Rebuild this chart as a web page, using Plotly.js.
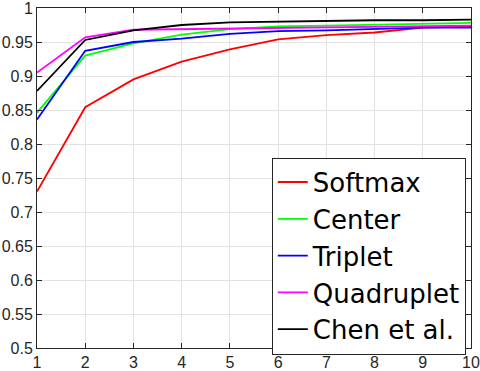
<!DOCTYPE html>
<html>
<head>
<meta charset="utf-8">
<script src="https://cdn.plot.ly/plotly-3.0.1.min.js"></script>
<style>html,body{margin:0;padding:0;background:#fff;}#chart{width:480px;height:371px;}</style>
</head>
<body>
<div id="chart"></div>
<script>
const xs = [1, 2, 3, 4, 5, 6, 7, 8, 9, 10];
const softmax = [0.730, 0.854, 0.895, 0.921, 0.939, 0.954, 0.960, 0.964, 0.971, 0.973];
const center = [0.846, 0.930, 0.948, 0.961, 0.969, 0.973, 0.974, 0.975, 0.977, 0.978];
const triplet = [0.836, 0.937, 0.950, 0.955, 0.962, 0.966, 0.967, 0.969, 0.971, 0.971];
const quadruplet = [0.905, 0.957, 0.968, 0.969, 0.970, 0.970, 0.971, 0.972, 0.973, 0.974];
const chen = [0.878, 0.953, 0.967, 0.975, 0.979, 0.980, 0.982, 0.982, 0.982, 0.983];
const names = ['Softmax', 'Center', 'Triplet', 'Quadruplet', 'Chen et al.'];
const colors = ['#ff0000', '#00ff00', '#0000ff', '#ff00ff', '#000000'];
const series = [softmax, center, triplet, quadruplet, chen];
const xTicks = [1, 2, 3, 4, 5, 6, 7, 8, 9, 10];
const yTicks = [0.5, 0.55, 0.6, 0.65, 0.7, 0.75, 0.8, 0.85, 0.9, 0.95, 1];

const traces = series.map((s, i) => ({
  x: xs, y: s, name: names[i], type: 'scatter', mode: 'lines',
  line: {color: colors[i], width: 1.8}
}));

const axisCommon = {
  showline: true, mirror: 'ticks', linecolor: '#262626', linewidth: 1,
  ticks: 'inside', ticklen: 5, tickcolor: '#262626',
  showgrid: true, gridcolor: '#e3e3e3', gridwidth: 1, zeroline: false,
  ticklabeloverflow: 'allow',
  tickfont: {family: 'Liberation Sans, Arial, sans-serif', size: 16, color: '#262626'}
};

const layout = {
  width: 480, height: 371,
  margin: {l: 37, r: 9, t: 8, b: 23},
  paper_bgcolor: '#ffffff', plot_bgcolor: '#ffffff',
  showlegend: true,
  xaxis: Object.assign({}, axisCommon, {range: [1, 10], tickvals: xTicks, ticktext: xTicks.map(String)}),
  yaxis: Object.assign({}, axisCommon, {range: [0.5, 1], tickvals: yTicks, ticktext: yTicks.map(v => String(v))}),
  legend: {
    x: 0.541, y: 0.56, xanchor: 'left', yanchor: 'top',
    bgcolor: '#ffffff', bordercolor: '#262626', borderwidth: 1,
    font: {family: 'DejaVu Sans, sans-serif', size: 26, color: '#000000'},
    itemwidth: 30, tracegroupgap: 0
  }
};

Plotly.newPlot('chart', traces, layout, {displayModeBar: false, staticPlot: true});
</script>
</body>
</html>
